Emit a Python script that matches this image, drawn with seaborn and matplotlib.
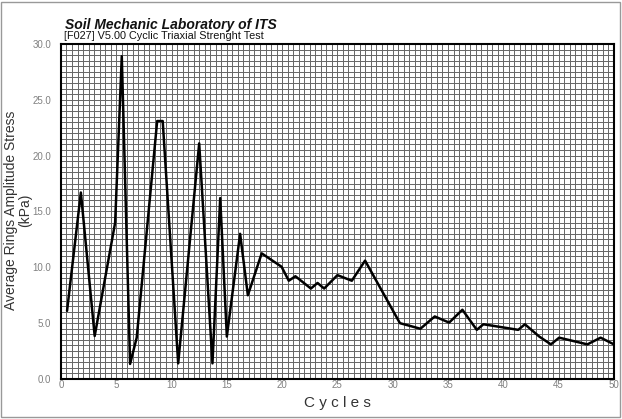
import matplotlib
matplotlib.use("Agg")
import matplotlib.pyplot as plt
import seaborn as sns
import numpy as np
import pandas as pd
from matplotlib.ticker import MultipleLocator
from matplotlib.patches import Rectangle

cycles = [0.55, 1.8, 3.05, 4.9, 5.5, 6.25, 6.85, 8.7, 9.2, 10.6, 12.5, 13.7, 14.4,
          15.0, 16.2, 16.9, 18.15, 19.95, 20.6, 21.2, 22.6, 23.2, 23.8, 25.0, 26.3,
          27.5, 30.65, 32.5, 33.8, 35.1, 36.3, 37.6, 38.2, 41.35, 41.95, 43.25, 44.3,
          45.05, 47.6, 48.8, 50.0]
stress = [6.1, 16.7, 3.85, 14.0, 28.9, 1.35, 3.7, 23.1, 23.1, 1.4, 21.1, 1.4, 16.2,
          3.8, 13.0, 7.5, 11.25, 10.05, 8.8, 9.2, 8.1, 8.6, 8.1, 9.3, 8.8,
          10.6, 5.0, 4.5, 5.6, 5.05, 6.2, 4.4, 4.9, 4.4, 4.9, 3.8, 3.1,
          3.7, 3.1, 3.7, 3.1]
x_ticks = [0, 5, 10, 15, 20, 25, 30, 35, 40, 45, 50]
y_ticks = [0.0, 5.0, 10.0, 15.0, 20.0, 25.0, 30.0]

df = pd.DataFrame({"Cycles": cycles, "Stress": stress})

sns.set_theme(style="white")
plt.rcParams['font.family'] = ['Liberation Sans', 'DejaVu Sans']

fig = plt.figure(figsize=(6.22, 4.19), dpi=100)
ax = fig.add_axes([0.098, 0.0955, 0.889, 0.7995])

sns.lineplot(data=df, x="Cycles", y="Stress", sort=False, color="black",
             linewidth=1.8, ax=ax, zorder=5)

ax.set_xlim(0, 50)
ax.set_ylim(0, 30)
ax.xaxis.set_minor_locator(MultipleLocator(0.5))
ax.yaxis.set_minor_locator(MultipleLocator(0.5))
ax.set_xticks(x_ticks)
ax.set_yticks(y_ticks)
ax.set_xticklabels([str(v) for v in x_ticks])
ax.set_yticklabels([f"{v:.1f}" for v in y_ticks])
ax.grid(True, which="both", color="#666666", linewidth=0.7)
ax.tick_params(axis="x", which="both", length=0, labelsize=7, labelcolor="#808080", pad=1)
ax.tick_params(axis="y", which="both", length=0, labelsize=7, labelcolor="#808080", pad=7)
for s in ax.spines.values():
    s.set_color("black")
    s.set_linewidth(1.5)

ax.set_xlabel("C y c l e s", fontsize=11, color="#333333", labelpad=4)
ax.set_ylabel("")
fig.text(18 / 622, 0.499, "Average Rings Amplitude Stress\n(kPa)", fontsize=10,
         color="#333333", rotation=90, ha="center", va="center", linespacing=0.95)

fig.text(0.104, 0.931, "Soil Mechanic Laboratory of ITS", fontsize=10,
         fontweight="bold", fontstyle="italic", color="#111111", va="baseline")
fig.text(0.103, 0.907, "[F027] V5.00 Cyclic Triaxial Strenght Test", fontsize=7.85,
         color="#111111", va="baseline")

fig.patches.append(Rectangle((0.002, 0.005), 0.995, 0.99, transform=fig.transFigure,
                             fill=False, edgecolor="#999999", linewidth=1.0))

fig.savefig("out.png", dpi=100)
